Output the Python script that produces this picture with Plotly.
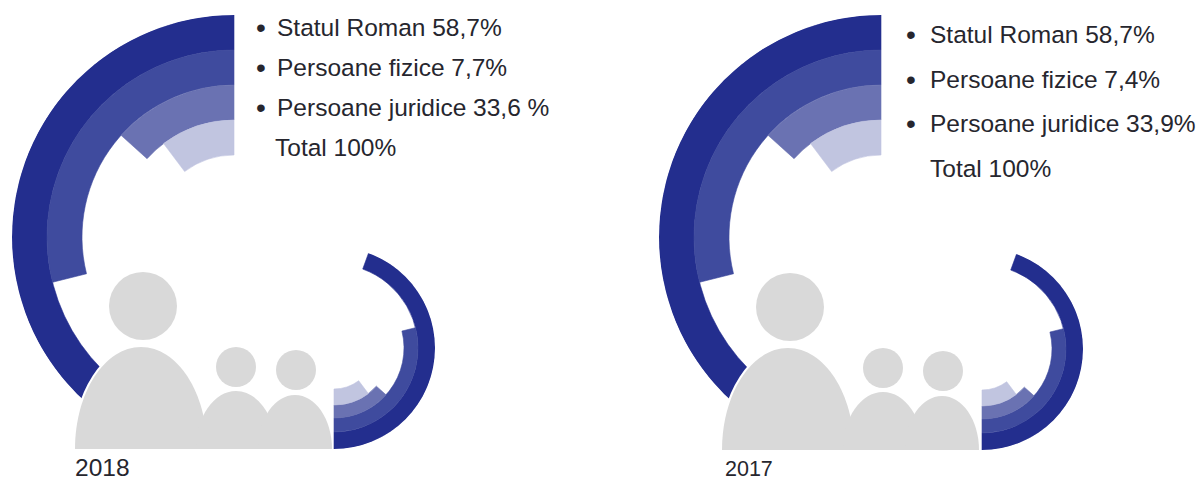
import plotly.graph_objects as go

W, H = 1203, 480

# Data
years = ["2018", "2017"]
legend_2018 = ["Statul Roman 58,7%", "Persoane fizice 7,7%", "Persoane juridice 33,6 %", "Total 100%"]
legend_2017 = ["Statul Roman 58,7%", "Persoane fizice 7,4%", "Persoane juridice 33,9%", "Total 100%"]
# sweep of each ring in degrees, outer ring first
sweeps_2018 = [160, 104, 48, 37]
sweeps_2017 = [160, 104, 48, 37]

# Ring radii in pixels (outer to inner edge)
big_edges = [222, 187, 152, 117, 82]
small_edges = [101, 84, 70, 57, 41]
ring_colors = ["#232E8E", "#3F4B9E", "#6A72B2", "#C1C5E0"]
GREY = "#D9D9D9"
TEXT = "#26262E"
FONT = "Liberation Sans, Arial, sans-serif"
LEGEND_SIZE = 24.5


def px(x):
    return x / W


def py(y):
    return 1 - y / H


# half ellipse standing on a base line, in page pixels
def body_path(cx, top, base, half_w):
    k = 0.5523
    h = base - top
    pts = [
        f"M {px(cx - half_w)} {py(base)}",
        f"C {px(cx - half_w)} {py(base - k * h)} {px(cx - k * half_w)} {py(top)} {px(cx)} {py(top)}",
        f"C {px(cx + k * half_w)} {py(top)} {px(cx + half_w)} {py(base - k * h)} {px(cx + half_w)} {py(base)}",
        "Z",
    ]
    return " ".join(pts)


fig = go.Figure()
shapes = []
annotations = []


def add_rings(name, cx, cy, edges, sweeps, rotation):
    R = edges[0]
    fig.add_trace(go.Barpolar(
        r=[edges[i] - edges[i + 1] for i in range(len(sweeps))],
        base=edges[1:],
        theta=[s / 2 for s in sweeps],
        width=sweeps,
        # same colour outline closes the seams between rings
        marker=dict(color=ring_colors, line=dict(width=0.6, color=ring_colors)),
        subplot=name,
        showlegend=False,
        hoverinfo="skip",
    ))
    fig.update_layout({name: dict(
        domain=dict(x=[px(cx - R), px(cx + R)], y=[py(cy + R), py(cy - R)]),
        bgcolor="rgba(0,0,0,0)",
        radialaxis=dict(visible=False, range=[0, R]),
        angularaxis=dict(visible=False, direction="counterclockwise", rotation=rotation),
    )})


def add_people(dx, dy):
    # white halo where the big body cuts the outer ring
    shapes.append(dict(type="path", path=body_path(141 + dx, 347 + dy, 449 + dy, 66), xref="paper", yref="paper",
                       fillcolor="white", line=dict(color="white", width=4), layer="above"))
    for cx, top, half_w in [(141, 347, 66), (236, 391, 40), (295, 395, 37)]:
        shapes.append(dict(type="path", path=body_path(cx + dx, top + dy, 449 + dy, half_w), xref="paper", yref="paper",
                           fillcolor=GREY, line=dict(width=0), layer="above"))
    for cx, cy, r in [(143, 306, 34), (236, 367, 20), (296, 370, 20)]:
        shapes.append(dict(type="circle", xref="paper", yref="paper",
                           x0=px(cx + dx - r), x1=px(cx + dx + r), y0=py(cy + dy + r), y1=py(cy + dy - r),
                           fillcolor=GREY, line=dict(width=0), layer="above"))


def label(x, y, text, size, anchor="middle"):
    annotations.append(dict(x=px(x), y=py(y), xref="paper", yref="paper", text=text, showarrow=False,
                            xanchor="left", yanchor=anchor, align="left", borderpad=0,
                            font=dict(family=FONT, size=size, color=TEXT)))


# 2018 panel
add_rings("polar", 234, 237, big_edges, sweeps_2018, 90)
add_rings("polar2", 334, 348, small_edges, sweeps_2018, 270)
add_people(0, 0)
for i, (txt, y) in enumerate(zip(legend_2018, [27, 67, 107, 147])):
    if i < 3:
        label(255, y, "•", 28)
    label(276 if i < 3 else 274, y, txt, LEGEND_SIZE)
label(74, 482, years[0], 24.5, "bottom")

# 2017 panel
add_rings("polar3", 881, 237, big_edges, sweeps_2017, 90)
add_rings("polar4", 982, 349, small_edges, sweeps_2017, 270)
add_people(647, 1)
for i, (txt, y) in enumerate(zip(legend_2017, [35, 80, 124, 168])):
    if i < 3:
        label(905, y, "•", 28)
    label(929, y, txt, LEGEND_SIZE)
label(724, 482, years[1], 21.5, "bottom")

fig.update_layout(
    width=W,
    height=H,
    margin=dict(l=0, r=0, t=0, b=0),
    paper_bgcolor="white",
    showlegend=False,
    shapes=shapes,
    annotations=annotations,
)

fig.write_html("out.html", config=dict(displayModeBar=False),
               post_script="document.body.style.margin='0';")
